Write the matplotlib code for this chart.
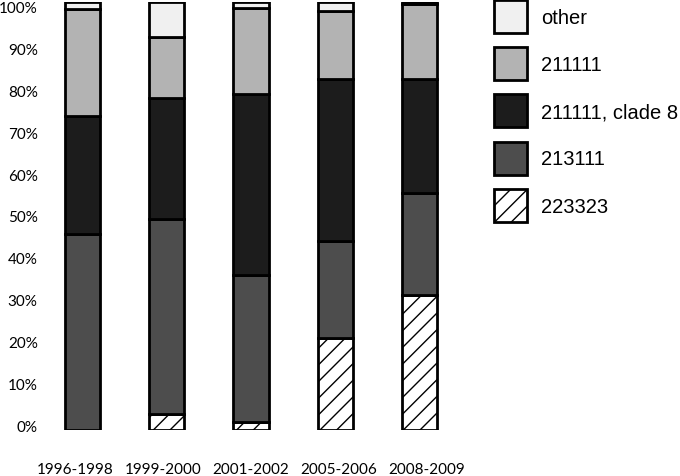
import numpy as np
import matplotlib
matplotlib.use("Agg")
import matplotlib.pyplot as plt
import matplotlib.transforms as mtransforms
from matplotlib.patches import Patch

# --- data (percent of isolates per period) ---
periods = ['1996-1998', '1999-2000', '2001-2002', '2005-2006', '2008-2009']
series_names = ['223323', '213111', '211111, clade 8', '211111', 'other']
v_223323 = [0.0, 3.7, 1.9, 21.5, 31.5]
v_213111 = [45.8, 45.6, 34.3, 22.7, 23.9]
v_clade8 = [27.6, 28.3, 42.3, 37.8, 26.6]
v_211111 = [25.0, 14.2, 20.1, 15.9, 17.5]
v_other = [1.6, 8.2, 1.4, 2.1, 0.5]

series_values = [v_223323, v_213111, v_clade8, v_211111, v_other]
fills = ['white', '#4d4d4d', '#1c1c1c', '#b3b3b3', '#f0f0f0']
hatches = ['//', None, None, None, None]

plt.rcParams['hatch.linewidth'] = 1.0

fig = plt.figure(figsize=(6.8, 4.77), dpi=100)
ax = fig.add_axes([40.5 / 680, 1 - 431 / 477, 421 / 680, 428 / 477])

x = np.arange(len(periods))
bottom = np.zeros(len(periods))
handles = []
for name, vals, fc, h in zip(series_names, series_values, fills, hatches):
    vals = np.array(vals)
    ax.bar(x, vals, width=0.42, bottom=bottom, color=fc, edgecolor='black',
           linewidth=2, hatch=h, zorder=2)
    bottom += vals
    handles.append(Patch(facecolor=fc, edgecolor='black', linewidth=2, hatch=h, label=name))

ax.set_xlim(-0.5, len(periods) - 0.5)
ax.set_ylim(0, 100)
yt = np.arange(0, 101, 10)
ax.set_yticks(yt)
ax.set_yticklabels([f'{t}%' for t in yt], family='Lato', fontsize=11, va='center')
ax.set_xticks(x)
ax.set_xticklabels(periods, family='Lato', fontsize=11)
ax.tick_params(axis='both', length=0)
ax.tick_params(axis='y', pad=2)
ax.tick_params(axis='x', pad=23)
for s in ax.spines.values():
    s.set_visible(False)

# the original's tick labels sit on a slightly different grid than the bars
for t, lab in zip(yt, ax.get_yticklabels()):
    dy = 3 - 9 * t / 100
    lab.set_transform(lab.get_transform() + mtransforms.ScaledTranslation(0, dy / 100, fig.dpi_scale_trans))
for i, lab in enumerate(ax.get_xticklabels()):
    dx = -7.5 + 3.8 * i
    lab.set_transform(lab.get_transform() + mtransforms.ScaledTranslation(dx / 100, 0, fig.dpi_scale_trans))

leg = fig.legend(handles=handles[::-1], loc='upper left',
                 bbox_to_anchor=(494 / 680, 1 - 1 / 477),
                 frameon=False, borderpad=0, borderaxespad=0,
                 prop={'family': 'Liberation Sans', 'size': 14.5},
                 handlelength=1.64, handleheight=2.15,
                 handletextpad=0.7, labelspacing=0.7)

fig.savefig('out.png', dpi=100)
